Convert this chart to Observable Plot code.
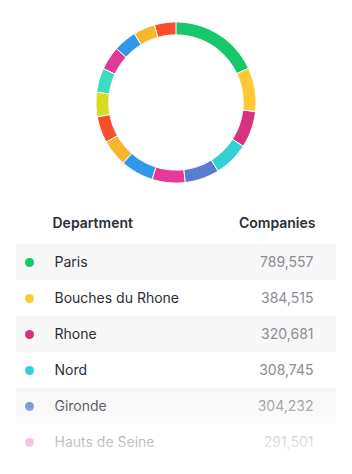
<!DOCTYPE html>
<html>
<head>
<meta charset="utf-8">
<script src="https://cdn.jsdelivr.net/npm/d3@7"></script>
<script src="https://cdn.jsdelivr.net/npm/@observablehq/plot@0.6"></script>
<style>
  html, body { margin: 0; padding: 0; background: #fff; }
  body { width: 352px; height: 474px; overflow: hidden; position: relative; font-family: Inter, "Noto Sans", sans-serif; }
  #chart svg { display: block; }
  #fade { position: absolute; left: 0; top: 388px; width: 352px; height: 86px;
          background: linear-gradient(rgba(255,255,255,0) 0%, rgba(255,255,255,0.72) 65%, rgba(255,255,255,0.95) 100%); pointer-events: none; }
</style>
</head>
<body>
<div id="chart"></div>
<div id="fade"></div>
<script>
// ---- data ----
const departments = ["Paris", "Bouches du Rhone", "Rhone", "Nord", "Gironde", "Hauts de Seine",
  "Alpes Maritimes", "Haute Garonne", "Var", "Loire Atlantique", "Herault",
  "Seine Saint Denis", "Val de Marne", "Yvelines", "Isere"];
const companies = [789557, 384515, 320681, 308745, 304232, 291501,
  289000, 236000, 232000, 214000, 212000, 208000, 203000, 190000, 187000];
const palette = ["#16c86b", "#ffc933", "#d6327f", "#33d1d6", "#5b7dd0", "#e23a96",
  "#3097eb", "#f8b62d", "#f94e2c", "#d7dc22", "#3ddcc2", "#e03a98",
  "#3097eb", "#f8b62d", "#f94e2c"];
const tableRows = 6; // rows listed in the table
const headers = ["Department", "Companies"];

// ---- donut geometry from data ----
const rows = departments.map((d, i) => ({name: d, value: companies[i]}));
const pie = d3.pie().sort(null).value(d => d.value).startAngle(0).endAngle(2 * Math.PI)(rows);
const rIn = 0.84, rOut = 1.0;
const arcPts = [];
for (const s of pie) {
  const n = Math.max(2, Math.ceil((s.endAngle - s.startAngle) / (Math.PI / 180)));
  for (let k = 0; k <= n; k++) {
    const a = s.startAngle + (s.endAngle - s.startAngle) * k / n;
    arcPts.push({name: s.data.name,
      x1: rOut * Math.sin(a), y1: rOut * Math.cos(a),
      x2: rIn * Math.sin(a), y2: rIn * Math.cos(a)});
  }
}

const color = {domain: departments, range: palette};

const donut = Plot.plot({
  width: 352, height: 200,
  marginLeft: 96, marginRight: 96, marginTop: 22, marginBottom: 17,
  x: {domain: [-1, 1], axis: null},
  y: {domain: [-1, 1], axis: null},
  color,
  marks: [
    Plot.area(arcPts, {x1: "x1", y1: "y1", x2: "x2", y2: "y2", z: "name", fill: "name",
      stroke: "white", strokeWidth: 1, curve: "linear"})
  ]
});

// ---- table ----
const tbl = rows.slice(0, tableRows);
const shaded = tbl.filter((d, i) => i % 2 === 0);
const fmt = d3.format(",");

const table = Plot.plot({
  width: 352, height: 274,
  margin: 0,
  style: {fontFamily: "Inter, 'Noto Sans', sans-serif"},
  x: {domain: [0, 352], range: [0, 352], axis: null},
  y: {type: "band", domain: tbl.map(d => d.name), range: [44, 260], padding: 0, axis: null},
  color,
  marks: [
    Plot.barX(shaded, {x1: 16, x2: 336, y: "name", fill: "#f7f7f8"}),
    Plot.text([headers[0]], {frameAnchor: "top-left", dx: 52, dy: 18, text: d => d, textAnchor: "start",
      fontSize: 14, fontWeight: 600, fill: "#2b2e36"}),
    Plot.text([headers[1]], {frameAnchor: "top-left", dx: 315, dy: 18, text: d => d, textAnchor: "end",
      fontSize: 14, fontWeight: 600, fill: "#2b2e36"}),
    Plot.dot(tbl, {x: 29, y: "name", r: 4.5, fill: "name", stroke: null}),
    Plot.text(tbl, {x: 54, y: "name", text: "name", textAnchor: "start", fontSize: 14, fill: "#2b2e36"}),
    Plot.text(tbl, {x: 313, y: "name", text: d => fmt(d.value), textAnchor: "end", fontSize: 14, fill: "#8c8c95"})
  ]
});

document.getElementById("chart").append(donut, table);
</script>
</body>
</html>
